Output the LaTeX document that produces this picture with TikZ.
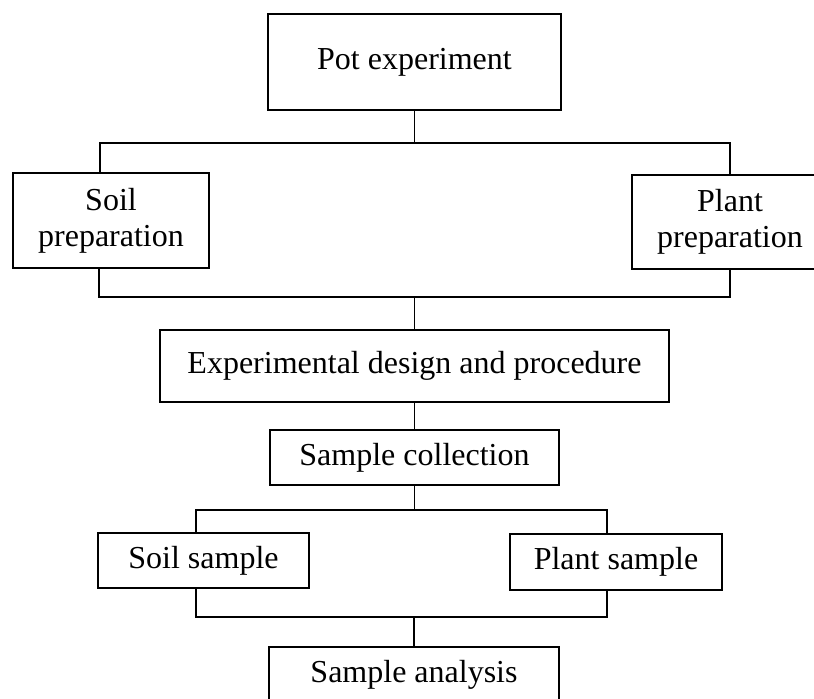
\documentclass[tikz,border=0pt]{standalone}
\usepackage{fontspec}
\setmainfont{Liberation Serif}
\begin{document}
\begin{tikzpicture}[x=0.5pt, y=-0.5pt, line width=0.9pt,
  box/.style={draw, inner sep=0pt, align=center,
    font=\fontsize{16}{18}\selectfont},
  link/.style={line width=0.9pt}]
  \useasboundingbox (0,0) rectangle (814,698);
  \clip (0,0) rectangle (814,698);
  % boxes
  \node[box, minimum width=146.5pt, minimum height=48pt] (pot) at (414.5,62) {Pot experiment};
  \node[box, minimum width=98pt, minimum height=47.5pt] (soilprep) at (111,220.5) {Soil\\preparation};
  \node[box, minimum width=98pt, minimum height=47pt] (plantprep) at (730,222) {Plant\\preparation};
  \node[box, minimum width=254.5pt, minimum height=36pt] (design) at (414.5,366) {Experimental design and procedure};
  \node[box, minimum width=144.5pt, minimum height=27.5pt] (collect) at (414.5,457.5) {Sample collection};
  \node[box, minimum width=105.5pt, minimum height=27.5pt] (soilsam) at (203.5,560.5) {Soil sample};
  \node[box, minimum width=106pt, minimum height=28pt] (plantsam) at (616,562) {Plant sample};
  \node[box, minimum width=145pt, minimum height=27.5pt] (analysis) at (414,674.5) {Sample analysis};
  % junctions
  \coordinate (top-l) at (100,143);
  \coordinate (top-r) at (730,143);
  \coordinate (mid-l) at (99,297);
  \coordinate (mid-r) at (730,297);
  \coordinate (low-l) at (196,510);
  \coordinate (low-r) at (607,510);
  \coordinate (bot-l) at (196,617);
  \coordinate (bot-r) at (607,617);
  % connectors
  \draw[link] (pot) -- (pot |- top-l);
  \draw[link] (soilprep.north -| top-l) |- (top-r) -- (plantprep.north -| top-r);
  \draw[link] (soilprep.south -| mid-l) |- (mid-r) -- (plantprep.south -| mid-r);
  \draw[link] (design) -- (design |- mid-l);
  \draw[link] (design) -- (collect);
  \draw[link] (collect) -- (collect |- low-l);
  \draw[link] (soilsam.north -| low-l) |- (low-r) -- (plantsam.north -| low-r);
  \draw[link] (soilsam.south -| bot-l) |- (bot-r) -- (plantsam.south -| bot-r);
  \draw[link] (analysis) -- (analysis |- bot-l);
\end{tikzpicture}
\end{document}
